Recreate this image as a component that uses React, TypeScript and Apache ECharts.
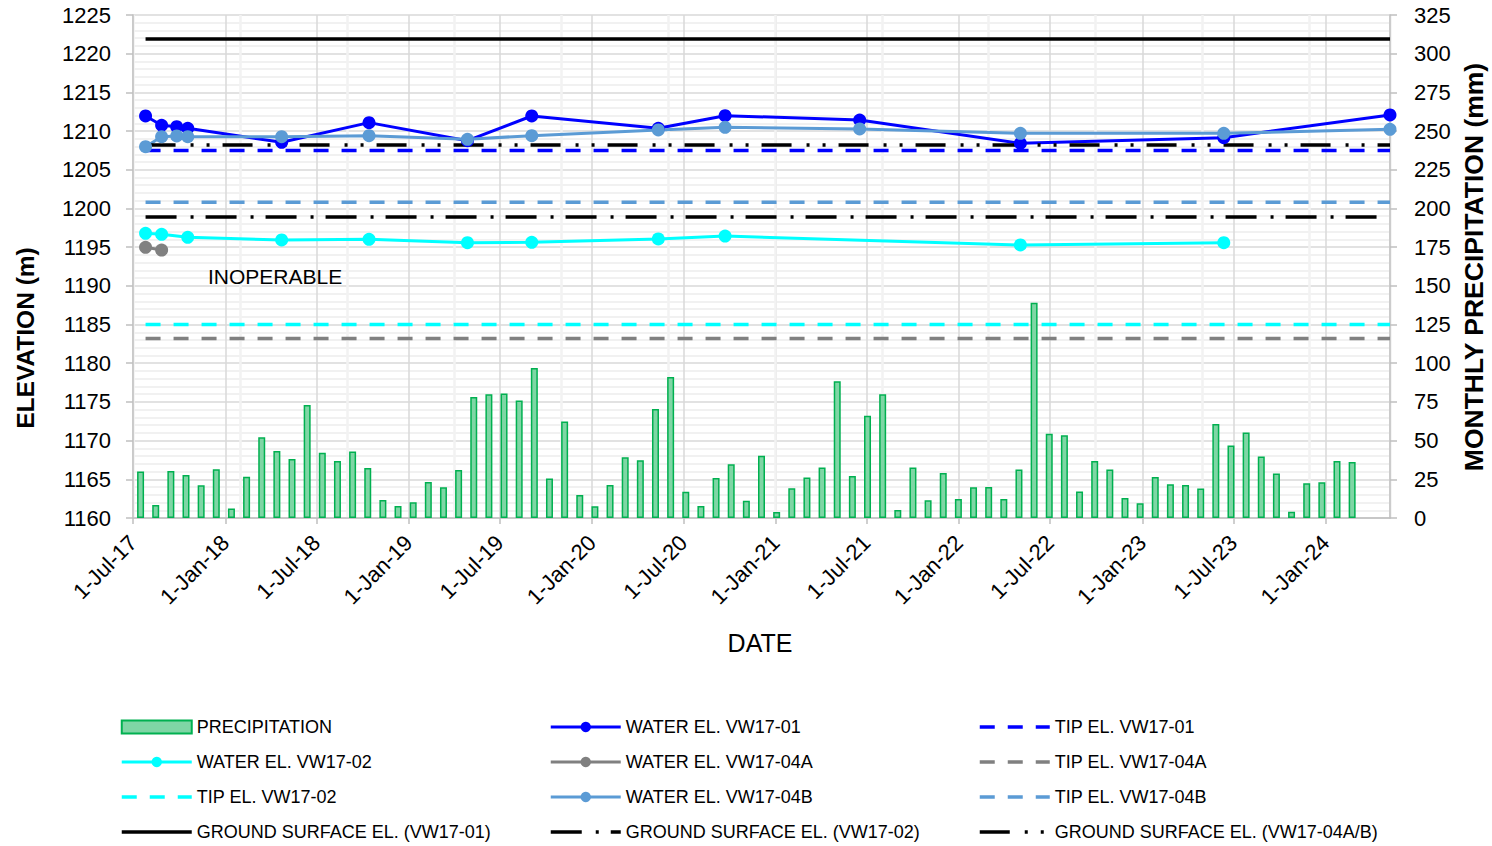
import React, { useEffect, useRef } from 'react';
import * as echarts from 'echarts';

// ---- Data ----
const monthCategories = [
  'Jul-17','Aug-17','Sep-17','Oct-17','Nov-17','Dec-17',
  'Jan-18','Feb-18','Mar-18','Apr-18','May-18','Jun-18','Jul-18','Aug-18','Sep-18','Oct-18','Nov-18','Dec-18',
  'Jan-19','Feb-19','Mar-19','Apr-19','May-19','Jun-19','Jul-19','Aug-19','Sep-19','Oct-19','Nov-19','Dec-19',
  'Jan-20','Feb-20','Mar-20','Apr-20','May-20','Jun-20','Jul-20','Aug-20','Sep-20','Oct-20','Nov-20','Dec-20',
  'Jan-21','Feb-21','Mar-21','Apr-21','May-21','Jun-21','Jul-21','Aug-21','Sep-21','Oct-21','Nov-21','Dec-21',
  'Jan-22','Feb-22','Mar-22','Apr-22','May-22','Jun-22','Jul-22','Aug-22','Sep-22','Oct-22','Nov-22','Dec-22',
  'Jan-23','Feb-23','Mar-23','Apr-23','May-23','Jun-23','Jul-23','Aug-23','Sep-23','Oct-23','Nov-23','Dec-23',
  'Jan-24','Feb-24','Mar-24','Apr-24','May-24',
];

const precipitation = [
  30, 8.4, 30.4, 27.8, 21.1, 31.5,
  6.1, 26.7, 52.1, 43.3, 38.1, 73, 42.2, 36.8, 42.9, 32.3, 11.6, 7.8,
  10.1, 23.3, 19.8, 31, 78.2, 79.9, 80.4, 76, 96.9, 25.5, 62.3, 14.9,
  7.6, 21.3, 39.2, 37.3, 70.4, 91.1, 17, 7.8, 25.8, 34.7, 11.2, 40.3,
  3.9, 19.2, 26.1, 32.7, 88.3, 27.1, 66.1, 79.9, 5.2, 32.7, 11.4, 29.1,
  12.3, 19.8, 20, 12.3, 31.3, 139.1, 54.5, 53.4, 17.2, 36.8, 31.3, 12.9,
  9.5, 26.5, 21.8, 21.3, 19, 60.7, 46.8, 55.2, 39.7, 28.7, 4.1, 22.4,
  23.1, 36.8, 36.2,
];

const sampleDates = [
  '2017-07-26', '2017-08-27', '2017-09-26', '2017-10-18', '2018-04-23', '2018-10-14', '2019-04-28',
  '2019-09-03', '2020-05-12', '2020-09-22', '2021-06-17', '2022-05-03', '2023-06-12', '2024-05-08',
];

const waterVW1701 = [1211.95, 1210.75, 1210.57, 1210.36, 1208.55, 1211.09, 1208.76, 1211.95, 1210.36, 1211.99, 1211.43, 1208.42, 1209.15, 1212.08];
const waterVW1702 = [1196.79, 1196.66, null, 1196.27, 1195.93, 1196.01, 1195.58, 1195.63, 1196.06, 1196.44, null, 1195.28, 1195.58, null];
const waterVW1704A = [1194.98, 1194.63, null, null, null, null, null, null, null, null, null, null, null, null];
const waterVW1704B = [1207.98, 1209.28, 1209.37, 1209.28, 1209.28, 1209.41, 1208.94, 1209.41, 1210.14, 1210.49, 1210.27, 1209.71, 1209.71, 1210.23];

const tipVW1701 = 1207.5;
const tipVW1702 = 1185.0;
const tipVW1704A = 1183.2;
const tipVW1704B = 1200.8;
const groundVW1701 = 1221.9;
const groundVW1702 = 1198.9;
const groundVW1704 = 1208.2;

const elevationTicks = { min: 1160, max: 1225, step: 5 };
const precipTicks = { min: 0, max: 325, step: 25 };
const axisStart = '2017-07-01';
const axisEnd = '2024-05-08';
const monthNames = ['Jan','Feb','Mar','Apr','May','Jun','Jul','Aug','Sep','Oct','Nov','Dec'];

const FONT = 'Liberation Sans, Arial, Helvetica, sans-serif';
const DAY = 86400000;

function pairs(values: (number | null)[]) {
  const out: [string, number][] = [];
  values.forEach((v, i) => {
    if (v !== null && v !== undefined) out.push([sampleDates[i], v]);
  });
  return out;
}

function flat(v: number): [string, number][] {
  return [[sampleDates[0], v], [sampleDates[sampleDates.length - 1], v]];
}

function parseD(s: string) {
  const [y, m, d] = s.split('-').map(Number);
  return new Date(y, m - 1, d).getTime();
}

export default function App() {
  const ref = useRef<HTMLDivElement>(null);

  useEffect(() => {
    document.body.style.margin = '0';
    if (!ref.current) return;
    const chart = echarts.init(ref.current, undefined, { renderer: 'svg' });

    const waterLine = (name: string, color: string, values: (number | null)[]) => ({
      name,
      type: 'line',
      xAxisIndex: 0,
      yAxisIndex: 0,
      data: pairs(values),
      connectNulls: true,
      symbol: 'circle',
      symbolSize: 13,
      showSymbol: true,
      lineStyle: { color, width: 3 },
      itemStyle: { color },
      clip: false,
    });

    const flatLine = (name: string, color: string, value: number, type: any, width = 3.5) => ({
      name,
      type: 'line',
      xAxisIndex: 0,
      yAxisIndex: 0,
      data: flat(value),
      symbol: 'none',
      lineStyle: { color, width, type, cap: 'butt' },
      itemStyle: { color },
    });

    const tipDash = [15, 13];
    const noMarker = (name: string) => ({ name, itemStyle: { opacity: 0, color: 'rgba(0,0,0,0)', borderWidth: 0 } });

    const legendCommon = {
      orient: 'vertical',
      top: 717,
      padding: 0,
      itemWidth: 70,
      itemHeight: 13,
      itemGap: 15,
      selectedMode: false,
      lineStyle: { width: 'inherit' },
      textStyle: { fontSize: 18, color: '#000', fontFamily: FONT, lineHeight: 20 },
    };

    const option: any = {
      animation: false,
      textStyle: { fontFamily: FONT },
      grid: { left: 133, top: 15, width: 1257, height: 503, containLabel: false },
      legend: [
        {
          ...legendCommon,
          left: 120,
          data: [
            { name: 'PRECIPITATION', icon: 'rect' },
            'WATER EL. VW17-02',
            noMarker('TIP EL. VW17-02'),
            noMarker('GROUND SURFACE EL. (VW17-01)'),
          ],
        },
        {
          ...legendCommon,
          left: 549,
          data: ['WATER EL. VW17-01', 'WATER EL. VW17-04A', 'WATER EL. VW17-04B', noMarker('GROUND SURFACE EL. (VW17-02)')],
        },
        {
          ...legendCommon,
          left: 978,
          data: [
            noMarker('TIP EL. VW17-01'),
            noMarker('TIP EL. VW17-04A'),
            noMarker('TIP EL. VW17-04B'),
            noMarker('GROUND SURFACE EL. (VW17-04A/B)'),
          ],
        },
      ],
      xAxis: [
        {
          type: 'time',
          min: parseD(axisStart),
          max: parseD(axisEnd),
          position: 'bottom',
          splitNumber: 14,
          minInterval: 182.5 * DAY,
          maxInterval: 182.5 * DAY,
          axisLine: { show: true, lineStyle: { color: '#BFBFBF', width: 1.5 } },
          axisTick: { show: true, length: 6, lineStyle: { color: '#BFBFBF', width: 1.5 } },
          axisLabel: {
            rotate: 45,
            fontSize: 22,
            color: '#000',
            margin: 21,
            fontFamily: FONT,
            showMinLabel: true,
            showMaxLabel: false,
            hideOverlap: false,
            formatter: (value: number) => {
              const d = new Date(value);
              return `${d.getDate()}-${monthNames[d.getMonth()]}-${String(d.getFullYear()).slice(2)}`;
            },
          },
          splitLine: { show: true, lineStyle: { color: '#D9D9D9', width: 1.5 } },
        },
        {
          type: 'category',
          data: monthCategories,
          boundaryGap: true,
          position: 'bottom',
          axisLine: { show: false },
          axisTick: { show: false },
          axisLabel: { show: false },
          splitLine: { show: false },
        },
        {
          type: 'value',
          min: 0,
          max: 2503,
          interval: 213,
          position: 'bottom',
          axisLine: { show: false },
          axisTick: { show: false },
          axisLabel: { show: false },
          splitLine: { show: true, lineStyle: { color: '#F2F2F2', width: 2.5 } },
        },
      ],
      yAxis: [
        {
          type: 'value',
          min: elevationTicks.min,
          max: elevationTicks.max,
          interval: elevationTicks.step,
          position: 'left',
          axisLine: { show: true, lineStyle: { color: '#BFBFBF', width: 1.5 } },
          axisTick: { show: true, length: 7, lineStyle: { color: '#BFBFBF', width: 1.5 } },
          axisLabel: { fontSize: 22, color: '#000', margin: 22, fontFamily: FONT, formatter: (v: number) => String(v) },
          splitLine: { show: true, lineStyle: { color: '#D9D9D9', width: 1.5 } },
          minorTick: { show: false, splitNumber: 5 },
          minorSplitLine: { show: true, lineStyle: { color: '#EDEDED', width: 1.5 } },
        },
        {
          type: 'value',
          min: precipTicks.min,
          max: precipTicks.max,
          interval: precipTicks.step,
          position: 'right',
          axisLine: { show: true, lineStyle: { color: '#BFBFBF', width: 1.5 } },
          axisTick: { show: true, length: 7, lineStyle: { color: '#BFBFBF', width: 1.5 } },
          axisLabel: { fontSize: 22, color: '#000', margin: 24, fontFamily: FONT, formatter: (v: number) => String(v) },
          splitLine: { show: false },
        },
      ],
      series: [
        {
          name: 'PRECIPITATION',
          type: 'bar',
          xAxisIndex: 1,
          yAxisIndex: 1,
          data: precipitation,
          barWidth: 7,
          itemStyle: { color: '#7FD6A5', borderColor: '#00B050', borderWidth: 1.5 },
        },
        waterLine('WATER EL. VW17-01', '#0000FF', waterVW1701),
        flatLine('TIP EL. VW17-01', '#0000FF', tipVW1701, tipDash),
        waterLine('WATER EL. VW17-02', '#00FFFF', waterVW1702),
        waterLine('WATER EL. VW17-04A', '#808080', waterVW1704A),
        flatLine('TIP EL. VW17-04A', '#808080', tipVW1704A, tipDash),
        flatLine('TIP EL. VW17-02', '#00FFFF', tipVW1702, tipDash),
        waterLine('WATER EL. VW17-04B', '#5B9BD5', waterVW1704B),
        flatLine('TIP EL. VW17-04B', '#5B9BD5', tipVW1704B, tipDash),
        flatLine('GROUND SURFACE EL. (VW17-01)', '#000000', groundVW1701, 'solid'),
        flatLine('GROUND SURFACE EL. (VW17-02)', '#000000', groundVW1702, [31, 14, 3, 12]),
        flatLine('GROUND SURFACE EL. (VW17-04A/B)', '#000000', groundVW1704, [30, 15, 3, 13, 3, 13]),
      ],
      graphic: [
        {
          type: 'text',
          x: 208,
          y: 276,
          z: 100,
          style: { text: 'INOPERABLE', fontSize: 21, fill: '#000', fontFamily: FONT, verticalAlign: 'middle' },
        },
        {
          type: 'text',
          x: 25,
          y: 338,
          rotation: Math.PI / 2,
          style: {
            text: 'ELEVATION (m)',
            fontSize: 24.5,
            fontWeight: 'bold',
            fill: '#000',
            fontFamily: FONT,
            align: 'center',
            verticalAlign: 'middle',
          },
        },
        {
          type: 'text',
          x: 1474,
          y: 267,
          rotation: Math.PI / 2,
          style: {
            text: 'MONTHLY PRECIPITATION (mm)',
            fontSize: 26.5,
            fontWeight: 'bold',
            fill: '#000',
            fontFamily: FONT,
            align: 'center',
            verticalAlign: 'middle',
          },
        },
        {
          type: 'text',
          x: 760,
          y: 643,
          style: {
            text: 'DATE',
            fontSize: 25,
            fill: '#000',
            fontFamily: FONT,
            align: 'center',
            verticalAlign: 'middle',
          },
        },
      ],
    };

    chart.setOption(option);
    return () => chart.dispose();
  }, []);

  return <div ref={ref} style={{ width: 1492, height: 846 }} />;
}
